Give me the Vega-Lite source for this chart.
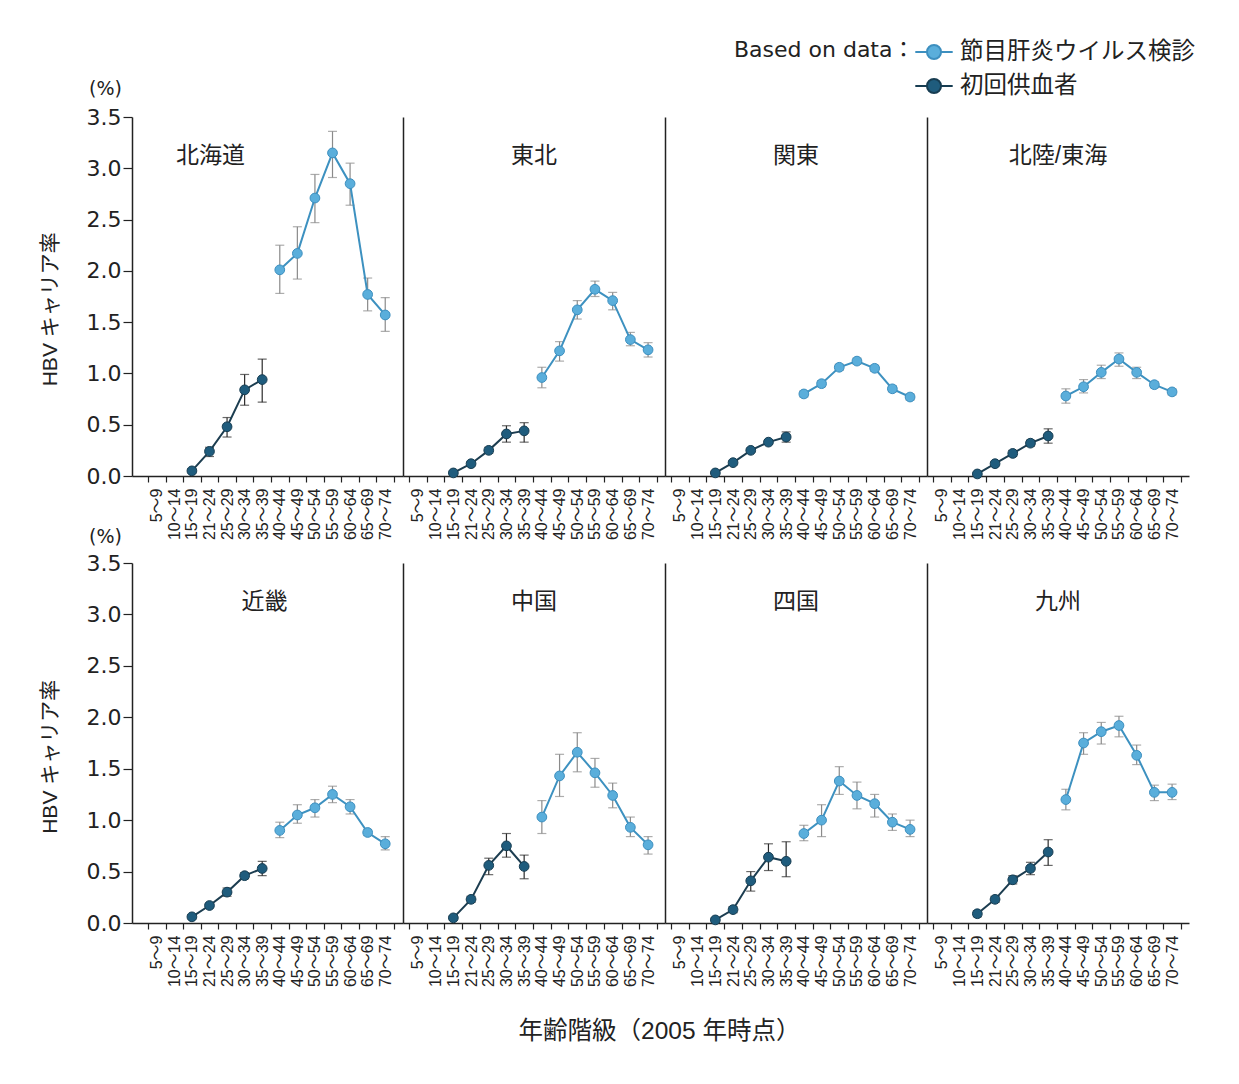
{
"$schema": "https://vega.github.io/schema/vega-lite/v6.json",
"padding": {"left": 40, "top": 40, "right": 45, "bottom": 40},
"data": {"values": [
{"r":"北海道","s":"初回供血者","age":"15〜19","v":0.05,"lo":0.03,"hi":0.07},
{"r":"北海道","s":"初回供血者","age":"21〜24","v":0.24,"lo":0.19,"hi":0.28},
{"r":"北海道","s":"初回供血者","age":"25〜29","v":0.48,"lo":0.38,"hi":0.57},
{"r":"北海道","s":"初回供血者","age":"30〜34","v":0.84,"lo":0.69,"hi":0.99},
{"r":"北海道","s":"初回供血者","age":"35〜39","v":0.94,"lo":0.72,"hi":1.14},
{"r":"北海道","s":"節目肝炎ウイルス検診","age":"40〜44","v":2.01,"lo":1.78,"hi":2.25},
{"r":"北海道","s":"節目肝炎ウイルス検診","age":"45〜49","v":2.17,"lo":1.92,"hi":2.43},
{"r":"北海道","s":"節目肝炎ウイルス検診","age":"50〜54","v":2.71,"lo":2.47,"hi":2.94},
{"r":"北海道","s":"節目肝炎ウイルス検診","age":"55〜59","v":3.15,"lo":2.91,"hi":3.36},
{"r":"北海道","s":"節目肝炎ウイルス検診","age":"60〜64","v":2.85,"lo":2.64,"hi":3.05},
{"r":"北海道","s":"節目肝炎ウイルス検診","age":"65〜69","v":1.77,"lo":1.61,"hi":1.93},
{"r":"北海道","s":"節目肝炎ウイルス検診","age":"70〜74","v":1.57,"lo":1.41,"hi":1.74},
{"r":"東北","s":"初回供血者","age":"15〜19","v":0.03,"lo":0.01,"hi":0.05},
{"r":"東北","s":"初回供血者","age":"21〜24","v":0.12,"lo":0.10,"hi":0.14},
{"r":"東北","s":"初回供血者","age":"25〜29","v":0.25,"lo":0.22,"hi":0.28},
{"r":"東北","s":"初回供血者","age":"30〜34","v":0.41,"lo":0.33,"hi":0.49},
{"r":"東北","s":"初回供血者","age":"35〜39","v":0.44,"lo":0.33,"hi":0.52},
{"r":"東北","s":"節目肝炎ウイルス検診","age":"40〜44","v":0.96,"lo":0.86,"hi":1.06},
{"r":"東北","s":"節目肝炎ウイルス検診","age":"45〜49","v":1.22,"lo":1.12,"hi":1.31},
{"r":"東北","s":"節目肝炎ウイルス検診","age":"50〜54","v":1.62,"lo":1.53,"hi":1.71},
{"r":"東北","s":"節目肝炎ウイルス検診","age":"55〜59","v":1.82,"lo":1.75,"hi":1.90},
{"r":"東北","s":"節目肝炎ウイルス検診","age":"60〜64","v":1.71,"lo":1.62,"hi":1.79},
{"r":"東北","s":"節目肝炎ウイルス検診","age":"65〜69","v":1.33,"lo":1.27,"hi":1.40},
{"r":"東北","s":"節目肝炎ウイルス検診","age":"70〜74","v":1.23,"lo":1.16,"hi":1.30},
{"r":"関東","s":"初回供血者","age":"15〜19","v":0.03,"lo":0.02,"hi":0.04},
{"r":"関東","s":"初回供血者","age":"21〜24","v":0.13,"lo":0.11,"hi":0.15},
{"r":"関東","s":"初回供血者","age":"25〜29","v":0.25,"lo":0.23,"hi":0.27},
{"r":"関東","s":"初回供血者","age":"30〜34","v":0.33,"lo":0.31,"hi":0.35},
{"r":"関東","s":"初回供血者","age":"35〜39","v":0.38,"lo":0.33,"hi":0.43},
{"r":"関東","s":"節目肝炎ウイルス検診","age":"40〜44","v":0.80,"lo":0.77,"hi":0.83},
{"r":"関東","s":"節目肝炎ウイルス検診","age":"45〜49","v":0.90,"lo":0.87,"hi":0.93},
{"r":"関東","s":"節目肝炎ウイルス検診","age":"50〜54","v":1.06,"lo":1.03,"hi":1.09},
{"r":"関東","s":"節目肝炎ウイルス検診","age":"55〜59","v":1.12,"lo":1.09,"hi":1.15},
{"r":"関東","s":"節目肝炎ウイルス検診","age":"60〜64","v":1.05,"lo":1.02,"hi":1.08},
{"r":"関東","s":"節目肝炎ウイルス検診","age":"65〜69","v":0.85,"lo":0.82,"hi":0.88},
{"r":"関東","s":"節目肝炎ウイルス検診","age":"70〜74","v":0.77,"lo":0.74,"hi":0.80},
{"r":"北陸/東海","s":"初回供血者","age":"15〜19","v":0.02,"lo":0.01,"hi":0.03},
{"r":"北陸/東海","s":"初回供血者","age":"21〜24","v":0.12,"lo":0.10,"hi":0.14},
{"r":"北陸/東海","s":"初回供血者","age":"25〜29","v":0.22,"lo":0.19,"hi":0.25},
{"r":"北陸/東海","s":"初回供血者","age":"30〜34","v":0.32,"lo":0.29,"hi":0.35},
{"r":"北陸/東海","s":"初回供血者","age":"35〜39","v":0.39,"lo":0.32,"hi":0.46},
{"r":"北陸/東海","s":"節目肝炎ウイルス検診","age":"40〜44","v":0.78,"lo":0.71,"hi":0.85},
{"r":"北陸/東海","s":"節目肝炎ウイルス検診","age":"45〜49","v":0.87,"lo":0.81,"hi":0.94},
{"r":"北陸/東海","s":"節目肝炎ウイルス検診","age":"50〜54","v":1.01,"lo":0.95,"hi":1.08},
{"r":"北陸/東海","s":"節目肝炎ウイルス検診","age":"55〜59","v":1.14,"lo":1.07,"hi":1.20},
{"r":"北陸/東海","s":"節目肝炎ウイルス検診","age":"60〜64","v":1.01,"lo":0.95,"hi":1.06},
{"r":"北陸/東海","s":"節目肝炎ウイルス検診","age":"65〜69","v":0.89,"lo":0.86,"hi":0.92},
{"r":"北陸/東海","s":"節目肝炎ウイルス検診","age":"70〜74","v":0.82,"lo":0.79,"hi":0.85},
{"r":"近畿","s":"初回供血者","age":"15〜19","v":0.06,"lo":0.04,"hi":0.08},
{"r":"近畿","s":"初回供血者","age":"21〜24","v":0.17,"lo":0.15,"hi":0.19},
{"r":"近畿","s":"初回供血者","age":"25〜29","v":0.30,"lo":0.26,"hi":0.34},
{"r":"近畿","s":"初回供血者","age":"30〜34","v":0.46,"lo":0.43,"hi":0.49},
{"r":"近畿","s":"初回供血者","age":"35〜39","v":0.53,"lo":0.46,"hi":0.60},
{"r":"近畿","s":"節目肝炎ウイルス検診","age":"40〜44","v":0.90,"lo":0.83,"hi":0.98},
{"r":"近畿","s":"節目肝炎ウイルス検診","age":"45〜49","v":1.05,"lo":0.97,"hi":1.15},
{"r":"近畿","s":"節目肝炎ウイルス検診","age":"50〜54","v":1.12,"lo":1.03,"hi":1.20},
{"r":"近畿","s":"節目肝炎ウイルス検診","age":"55〜59","v":1.25,"lo":1.17,"hi":1.33},
{"r":"近畿","s":"節目肝炎ウイルス検診","age":"60〜64","v":1.13,"lo":1.06,"hi":1.20},
{"r":"近畿","s":"節目肝炎ウイルス検診","age":"65〜69","v":0.88,"lo":0.85,"hi":0.91},
{"r":"近畿","s":"節目肝炎ウイルス検診","age":"70〜74","v":0.77,"lo":0.71,"hi":0.84},
{"r":"中国","s":"初回供血者","age":"15〜19","v":0.05,"lo":0.03,"hi":0.07},
{"r":"中国","s":"初回供血者","age":"21〜24","v":0.23,"lo":0.20,"hi":0.26},
{"r":"中国","s":"初回供血者","age":"25〜29","v":0.56,"lo":0.47,"hi":0.63},
{"r":"中国","s":"初回供血者","age":"30〜34","v":0.75,"lo":0.64,"hi":0.87},
{"r":"中国","s":"初回供血者","age":"35〜39","v":0.55,"lo":0.43,"hi":0.66},
{"r":"中国","s":"節目肝炎ウイルス検診","age":"40〜44","v":1.03,"lo":0.87,"hi":1.19},
{"r":"中国","s":"節目肝炎ウイルス検診","age":"45〜49","v":1.43,"lo":1.23,"hi":1.64},
{"r":"中国","s":"節目肝炎ウイルス検診","age":"50〜54","v":1.66,"lo":1.47,"hi":1.85},
{"r":"中国","s":"節目肝炎ウイルス検診","age":"55〜59","v":1.46,"lo":1.32,"hi":1.60},
{"r":"中国","s":"節目肝炎ウイルス検診","age":"60〜64","v":1.24,"lo":1.12,"hi":1.36},
{"r":"中国","s":"節目肝炎ウイルス検診","age":"65〜69","v":0.93,"lo":0.84,"hi":1.03},
{"r":"中国","s":"節目肝炎ウイルス検診","age":"70〜74","v":0.76,"lo":0.67,"hi":0.84},
{"r":"四国","s":"初回供血者","age":"15〜19","v":0.03,"lo":0.01,"hi":0.05},
{"r":"四国","s":"初回供血者","age":"21〜24","v":0.13,"lo":0.10,"hi":0.16},
{"r":"四国","s":"初回供血者","age":"25〜29","v":0.41,"lo":0.31,"hi":0.50},
{"r":"四国","s":"初回供血者","age":"30〜34","v":0.64,"lo":0.51,"hi":0.77},
{"r":"四国","s":"初回供血者","age":"35〜39","v":0.60,"lo":0.45,"hi":0.79},
{"r":"四国","s":"節目肝炎ウイルス検診","age":"40〜44","v":0.87,"lo":0.80,"hi":0.95},
{"r":"四国","s":"節目肝炎ウイルス検診","age":"45〜49","v":1.00,"lo":0.84,"hi":1.15},
{"r":"四国","s":"節目肝炎ウイルス検診","age":"50〜54","v":1.38,"lo":1.25,"hi":1.52},
{"r":"四国","s":"節目肝炎ウイルス検診","age":"55〜59","v":1.24,"lo":1.11,"hi":1.37},
{"r":"四国","s":"節目肝炎ウイルス検診","age":"60〜64","v":1.16,"lo":1.03,"hi":1.25},
{"r":"四国","s":"節目肝炎ウイルス検診","age":"65〜69","v":0.98,"lo":0.90,"hi":1.06},
{"r":"四国","s":"節目肝炎ウイルス検診","age":"70〜74","v":0.91,"lo":0.84,"hi":1.00},
{"r":"九州","s":"初回供血者","age":"15〜19","v":0.09,"lo":0.06,"hi":0.12},
{"r":"九州","s":"初回供血者","age":"21〜24","v":0.23,"lo":0.20,"hi":0.26},
{"r":"九州","s":"初回供血者","age":"25〜29","v":0.42,"lo":0.38,"hi":0.46},
{"r":"九州","s":"初回供血者","age":"30〜34","v":0.53,"lo":0.47,"hi":0.59},
{"r":"九州","s":"初回供血者","age":"35〜39","v":0.69,"lo":0.56,"hi":0.81},
{"r":"九州","s":"節目肝炎ウイルス検診","age":"40〜44","v":1.20,"lo":1.10,"hi":1.30},
{"r":"九州","s":"節目肝炎ウイルス検診","age":"45〜49","v":1.75,"lo":1.64,"hi":1.85},
{"r":"九州","s":"節目肝炎ウイルス検診","age":"50〜54","v":1.86,"lo":1.74,"hi":1.95},
{"r":"九州","s":"節目肝炎ウイルス検診","age":"55〜59","v":1.92,"lo":1.81,"hi":2.01},
{"r":"九州","s":"節目肝炎ウイルス検診","age":"60〜64","v":1.63,"lo":1.54,"hi":1.73},
{"r":"九州","s":"節目肝炎ウイルス検診","age":"65〜69","v":1.27,"lo":1.19,"hi":1.34},
{"r":"九州","s":"節目肝炎ウイルス検診","age":"70〜74","v":1.27,"lo":1.20,"hi":1.35}
]},
"title": {"text": "年齢階級（2005 年時点）", "orient": "bottom", "anchor": "middle", "fontSize": 24.5, "fontWeight": "normal", "color": "#222", "offset": 33, "baseline": "top", "dx": 42},
"spacing": -13,
"vconcat": [
{"hconcat": [
{"width": 271, "height": 359,
 "title": {"text": "北海道", "orient": "top", "anchor": "middle", "frame": "group", "offset": -100, "baseline": "middle", "dx": -57},
 "transform": [{"filter": "datum.r === '北海道'"}],
 "encoding": {"x": {"field": "age", "type": "ordinal", "title": null, "scale": {"type": "band", "domain": ["5〜9","10〜14","15〜19","21〜24","25〜29","30〜34","35〜39","40〜44","45〜49","50〜54","55〜59","60〜64","65〜69","70〜74"], "paddingInner": 0, "paddingOuter": 0.71, "align": 0.64}, "axis": {"title": null, "labelAngle": 270, "labelFontSize": 16, "tickBand": "extent", "tickSize": 6, "labelPadding": 6}}},
 "layer": [
  {"mark": {"type": "rule", "strokeWidth": 1.2}, "encoding": {"y": {"field": "lo", "type": "quantitative", "scale": {"domain": [0, 3.5], "nice": false}, "axis": {"title": "(%)", "titleFont": "DejaVu Sans", "labelFont": "DejaVu Sans", "titleAngle": 0, "titleX": -27, "titleY": -29, "titleAlign": "center", "titleBaseline": "middle", "titleFontSize": 19, "values": [0, 0.5, 1, 1.5, 2, 2.5, 3, 3.5], "format": ".1f", "labelFontSize": 22, "tickSize": 9, "labelPadding": 2}}, "y2": {"field": "hi"}, "color": {"condition": {"test": "datum.s === '初回供血者'", "value": "#2b2b2b"}, "value": "#8a8a8a"}}},
  {"mark": {"type": "tick", "size": 9, "thickness": 1.2}, "encoding": {"y": {"field": "lo", "type": "quantitative", "scale": {"domain": [0, 3.5], "nice": false}, "axis": {"title": "(%)", "titleFont": "DejaVu Sans", "labelFont": "DejaVu Sans", "titleAngle": 0, "titleX": -27, "titleY": -29, "titleAlign": "center", "titleBaseline": "middle", "titleFontSize": 19, "values": [0, 0.5, 1, 1.5, 2, 2.5, 3, 3.5], "format": ".1f", "labelFontSize": 22, "tickSize": 9, "labelPadding": 2}}, "color": {"condition": {"test": "datum.s === '初回供血者'", "value": "#2b2b2b"}, "value": "#8a8a8a"}}},
  {"mark": {"type": "tick", "size": 9, "thickness": 1.2}, "encoding": {"y": {"field": "hi", "type": "quantitative", "scale": {"domain": [0, 3.5], "nice": false}, "axis": {"title": "(%)", "titleFont": "DejaVu Sans", "labelFont": "DejaVu Sans", "titleAngle": 0, "titleX": -27, "titleY": -29, "titleAlign": "center", "titleBaseline": "middle", "titleFontSize": 19, "values": [0, 0.5, 1, 1.5, 2, 2.5, 3, 3.5], "format": ".1f", "labelFontSize": 22, "tickSize": 9, "labelPadding": 2}}, "color": {"condition": {"test": "datum.s === '初回供血者'", "value": "#2b2b2b"}, "value": "#8a8a8a"}}},
  {"mark": {"type": "line", "strokeWidth": 2}, "encoding": {"y": {"field": "v", "type": "quantitative", "scale": {"domain": [0, 3.5], "nice": false}, "axis": {"title": "(%)", "titleFont": "DejaVu Sans", "labelFont": "DejaVu Sans", "titleAngle": 0, "titleX": -27, "titleY": -29, "titleAlign": "center", "titleBaseline": "middle", "titleFontSize": 19, "values": [0, 0.5, 1, 1.5, 2, 2.5, 3, 3.5], "format": ".1f", "labelFontSize": 22, "tickSize": 9, "labelPadding": 2}}, "detail": {"field": "s"}, "color": {"condition": {"test": "datum.s === '初回供血者'", "value": "#1c3d50"}, "value": "#3d91c0"}}},
  {"mark": {"type": "point", "filled": true, "size": 95, "opacity": 1, "strokeWidth": 1}, "encoding": {"y": {"field": "v", "type": "quantitative", "scale": {"domain": [0, 3.5], "nice": false}, "axis": {"title": "(%)", "titleFont": "DejaVu Sans", "labelFont": "DejaVu Sans", "titleAngle": 0, "titleX": -27, "titleY": -29, "titleAlign": "center", "titleBaseline": "middle", "titleFontSize": 19, "values": [0, 0.5, 1, 1.5, 2, 2.5, 3, 3.5], "format": ".1f", "labelFontSize": 22, "tickSize": 9, "labelPadding": 2}},
    "color": {"field": "s", "type": "nominal", "title": "Based on data：", "scale": {"domain": ["節目肝炎ウイルス検診", "初回供血者"], "range": ["#5aaedb", "#1f5c7d"]}, "legend": {"orient": "none", "legendX": 602, "legendY": -77, "titleOrient": "left", "titleAnchor": "start", "titleFont": "DejaVu Sans, Noto Sans CJK JP", "titleFontSize": 22, "titleFontWeight": "normal", "titleColor": "#222", "titlePadding": 7, "labelFontSize": 23.5, "labelColor": "#222", "labelOffset": 14, "symbolType": "M-1.7,0L-0.64,0M0.64,0L1.7,0M-0.64,0A0.64,0.64,0,1,1,0.64,0A0.64,0.64,0,1,1,-0.64,0Z", "symbolSize": 484, "symbolStrokeWidth": 2, "rowPadding": 10, "padding": 0, "labelLimit": 400, "titleLimit": 400}},
    "stroke": {"field": "s", "type": "nominal", "title": "Based on data：", "scale": {"domain": ["節目肝炎ウイルス検診", "初回供血者"], "range": ["#3d8fbf", "#173d52"]}, "legend": {"orient": "none", "legendX": 602, "legendY": -77, "titleOrient": "left", "titleAnchor": "start", "titleFont": "DejaVu Sans, Noto Sans CJK JP", "titleFontSize": 22, "titleFontWeight": "normal", "titleColor": "#222", "titlePadding": 7, "labelFontSize": 23.5, "labelColor": "#222", "labelOffset": 14, "symbolType": "M-1.7,0L-0.64,0M0.64,0L1.7,0M-0.64,0A0.64,0.64,0,1,1,0.64,0A0.64,0.64,0,1,1,-0.64,0Z", "symbolSize": 484, "symbolStrokeWidth": 2, "rowPadding": 10, "padding": 0, "labelLimit": 400, "titleLimit": 400}}}}
 ]},
{"width": 262, "height": 359,
 "title": {"text": "東北", "orient": "top", "anchor": "middle", "frame": "group", "offset": -62, "baseline": "middle"},
 "transform": [{"filter": "datum.r === '東北'"}],
 "encoding": {"x": {"field": "age", "type": "ordinal", "title": null, "scale": {"type": "band", "domain": ["5〜9","10〜14","15〜19","21〜24","25〜29","30〜34","35〜39","40〜44","45〜49","50〜54","55〜59","60〜64","65〜69","70〜74"], "paddingInner": 0, "paddingOuter": 0.4, "align": 0.43}, "axis": {"title": null, "labelAngle": 270, "labelFontSize": 16, "tickBand": "extent", "tickSize": 6, "labelPadding": 6}}},
 "layer": [
  {"mark": {"type": "rule", "strokeWidth": 1.2}, "encoding": {"y": {"field": "lo", "type": "quantitative", "scale": {"domain": [0, 3.5], "nice": false}, "axis": {"title": null, "labels": false, "ticks": false, "values": [0]}}, "y2": {"field": "hi"}, "color": {"condition": {"test": "datum.s === '初回供血者'", "value": "#2b2b2b"}, "value": "#8a8a8a"}}},
  {"mark": {"type": "tick", "size": 9, "thickness": 1.2}, "encoding": {"y": {"field": "lo", "type": "quantitative", "scale": {"domain": [0, 3.5], "nice": false}, "axis": {"title": null, "labels": false, "ticks": false, "values": [0]}}, "color": {"condition": {"test": "datum.s === '初回供血者'", "value": "#2b2b2b"}, "value": "#8a8a8a"}}},
  {"mark": {"type": "tick", "size": 9, "thickness": 1.2}, "encoding": {"y": {"field": "hi", "type": "quantitative", "scale": {"domain": [0, 3.5], "nice": false}, "axis": {"title": null, "labels": false, "ticks": false, "values": [0]}}, "color": {"condition": {"test": "datum.s === '初回供血者'", "value": "#2b2b2b"}, "value": "#8a8a8a"}}},
  {"mark": {"type": "line", "strokeWidth": 2}, "encoding": {"y": {"field": "v", "type": "quantitative", "scale": {"domain": [0, 3.5], "nice": false}, "axis": {"title": null, "labels": false, "ticks": false, "values": [0]}}, "detail": {"field": "s"}, "color": {"condition": {"test": "datum.s === '初回供血者'", "value": "#1c3d50"}, "value": "#3d91c0"}}},
  {"mark": {"type": "point", "filled": true, "size": 95, "opacity": 1, "strokeWidth": 1}, "encoding": {"y": {"field": "v", "type": "quantitative", "scale": {"domain": [0, 3.5], "nice": false}, "axis": {"title": null, "labels": false, "ticks": false, "values": [0]}},
    "color": {"field": "s", "type": "nominal", "title": "Based on data：", "scale": {"domain": ["節目肝炎ウイルス検診", "初回供血者"], "range": ["#5aaedb", "#1f5c7d"]}, "legend": null},
    "stroke": {"field": "s", "type": "nominal", "title": "Based on data：", "scale": {"domain": ["節目肝炎ウイルス検診", "初回供血者"], "range": ["#3d8fbf", "#173d52"]}, "legend": null}}}
 ]},
{"width": 262, "height": 359,
 "title": {"text": "関東", "orient": "top", "anchor": "middle", "frame": "group", "offset": -62, "baseline": "middle"},
 "transform": [{"filter": "datum.r === '関東'"}],
 "encoding": {"x": {"field": "age", "type": "ordinal", "title": null, "scale": {"type": "band", "domain": ["5〜9","10〜14","15〜19","21〜24","25〜29","30〜34","35〜39","40〜44","45〜49","50〜54","55〜59","60〜64","65〜69","70〜74"], "paddingInner": 0, "paddingOuter": 0.4, "align": 0.43}, "axis": {"title": null, "labelAngle": 270, "labelFontSize": 16, "tickBand": "extent", "tickSize": 6, "labelPadding": 6}}},
 "layer": [
  {"mark": {"type": "rule", "strokeWidth": 1.2}, "encoding": {"y": {"field": "lo", "type": "quantitative", "scale": {"domain": [0, 3.5], "nice": false}, "axis": {"title": null, "labels": false, "ticks": false, "values": [0]}}, "y2": {"field": "hi"}, "color": {"condition": {"test": "datum.s === '初回供血者'", "value": "#2b2b2b"}, "value": "#8a8a8a"}}},
  {"mark": {"type": "tick", "size": 9, "thickness": 1.2}, "encoding": {"y": {"field": "lo", "type": "quantitative", "scale": {"domain": [0, 3.5], "nice": false}, "axis": {"title": null, "labels": false, "ticks": false, "values": [0]}}, "color": {"condition": {"test": "datum.s === '初回供血者'", "value": "#2b2b2b"}, "value": "#8a8a8a"}}},
  {"mark": {"type": "tick", "size": 9, "thickness": 1.2}, "encoding": {"y": {"field": "hi", "type": "quantitative", "scale": {"domain": [0, 3.5], "nice": false}, "axis": {"title": null, "labels": false, "ticks": false, "values": [0]}}, "color": {"condition": {"test": "datum.s === '初回供血者'", "value": "#2b2b2b"}, "value": "#8a8a8a"}}},
  {"mark": {"type": "line", "strokeWidth": 2}, "encoding": {"y": {"field": "v", "type": "quantitative", "scale": {"domain": [0, 3.5], "nice": false}, "axis": {"title": null, "labels": false, "ticks": false, "values": [0]}}, "detail": {"field": "s"}, "color": {"condition": {"test": "datum.s === '初回供血者'", "value": "#1c3d50"}, "value": "#3d91c0"}}},
  {"mark": {"type": "point", "filled": true, "size": 95, "opacity": 1, "strokeWidth": 1}, "encoding": {"y": {"field": "v", "type": "quantitative", "scale": {"domain": [0, 3.5], "nice": false}, "axis": {"title": null, "labels": false, "ticks": false, "values": [0]}},
    "color": {"field": "s", "type": "nominal", "title": "Based on data：", "scale": {"domain": ["節目肝炎ウイルス検診", "初回供血者"], "range": ["#5aaedb", "#1f5c7d"]}, "legend": null},
    "stroke": {"field": "s", "type": "nominal", "title": "Based on data：", "scale": {"domain": ["節目肝炎ウイルス検診", "初回供血者"], "range": ["#3d8fbf", "#173d52"]}, "legend": null}}}
 ]},
{"width": 262, "height": 359,
 "title": {"text": "北陸/東海", "orient": "top", "anchor": "middle", "frame": "group", "offset": -62, "baseline": "middle"},
 "transform": [{"filter": "datum.r === '北陸/東海'"}],
 "encoding": {"x": {"field": "age", "type": "ordinal", "title": null, "scale": {"type": "band", "domain": ["5〜9","10〜14","15〜19","21〜24","25〜29","30〜34","35〜39","40〜44","45〜49","50〜54","55〜59","60〜64","65〜69","70〜74"], "paddingInner": 0, "paddingOuter": 0.4, "align": 0.43}, "axis": {"title": null, "labelAngle": 270, "labelFontSize": 16, "tickBand": "extent", "tickSize": 6, "labelPadding": 6}}},
 "layer": [
  {"mark": {"type": "rule", "strokeWidth": 1.2}, "encoding": {"y": {"field": "lo", "type": "quantitative", "scale": {"domain": [0, 3.5], "nice": false}, "axis": {"title": null, "labels": false, "ticks": false, "values": [0]}}, "y2": {"field": "hi"}, "color": {"condition": {"test": "datum.s === '初回供血者'", "value": "#2b2b2b"}, "value": "#8a8a8a"}}},
  {"mark": {"type": "tick", "size": 9, "thickness": 1.2}, "encoding": {"y": {"field": "lo", "type": "quantitative", "scale": {"domain": [0, 3.5], "nice": false}, "axis": {"title": null, "labels": false, "ticks": false, "values": [0]}}, "color": {"condition": {"test": "datum.s === '初回供血者'", "value": "#2b2b2b"}, "value": "#8a8a8a"}}},
  {"mark": {"type": "tick", "size": 9, "thickness": 1.2}, "encoding": {"y": {"field": "hi", "type": "quantitative", "scale": {"domain": [0, 3.5], "nice": false}, "axis": {"title": null, "labels": false, "ticks": false, "values": [0]}}, "color": {"condition": {"test": "datum.s === '初回供血者'", "value": "#2b2b2b"}, "value": "#8a8a8a"}}},
  {"mark": {"type": "line", "strokeWidth": 2}, "encoding": {"y": {"field": "v", "type": "quantitative", "scale": {"domain": [0, 3.5], "nice": false}, "axis": {"title": null, "labels": false, "ticks": false, "values": [0]}}, "detail": {"field": "s"}, "color": {"condition": {"test": "datum.s === '初回供血者'", "value": "#1c3d50"}, "value": "#3d91c0"}}},
  {"mark": {"type": "point", "filled": true, "size": 95, "opacity": 1, "strokeWidth": 1}, "encoding": {"y": {"field": "v", "type": "quantitative", "scale": {"domain": [0, 3.5], "nice": false}, "axis": {"title": null, "labels": false, "ticks": false, "values": [0]}},
    "color": {"field": "s", "type": "nominal", "title": "Based on data：", "scale": {"domain": ["節目肝炎ウイルス検診", "初回供血者"], "range": ["#5aaedb", "#1f5c7d"]}, "legend": null},
    "stroke": {"field": "s", "type": "nominal", "title": "Based on data：", "scale": {"domain": ["節目肝炎ウイルス検診", "初回供血者"], "range": ["#3d8fbf", "#173d52"]}, "legend": null}}}
 ]}
], "spacing": 0, "bounds": "flush", "title": {"text": "HBV キャリア率", "orient": "left", "anchor": "middle", "fontSize": 21, "fontWeight": "normal", "color": "#222", "offset": 25}},
{"hconcat": [
{"width": 271, "height": 360,
 "title": {"text": "近畿", "orient": "top", "anchor": "middle", "frame": "group", "offset": -98, "baseline": "middle", "dx": -3},
 "transform": [{"filter": "datum.r === '近畿'"}],
 "encoding": {"x": {"field": "age", "type": "ordinal", "title": null, "scale": {"type": "band", "domain": ["5〜9","10〜14","15〜19","21〜24","25〜29","30〜34","35〜39","40〜44","45〜49","50〜54","55〜59","60〜64","65〜69","70〜74"], "paddingInner": 0, "paddingOuter": 0.71, "align": 0.64}, "axis": {"title": null, "labelAngle": 270, "labelFontSize": 16, "tickBand": "extent", "tickSize": 6, "labelPadding": 6}}},
 "layer": [
  {"mark": {"type": "rule", "strokeWidth": 1.2}, "encoding": {"y": {"field": "lo", "type": "quantitative", "scale": {"domain": [0, 3.5], "nice": false}, "axis": {"title": "(%)", "titleFont": "DejaVu Sans", "labelFont": "DejaVu Sans", "titleAngle": 0, "titleX": -27, "titleY": -27, "titleAlign": "center", "titleBaseline": "middle", "titleFontSize": 19, "values": [0, 0.5, 1, 1.5, 2, 2.5, 3, 3.5], "format": ".1f", "labelFontSize": 22, "tickSize": 9, "labelPadding": 2}}, "y2": {"field": "hi"}, "color": {"condition": {"test": "datum.s === '初回供血者'", "value": "#2b2b2b"}, "value": "#8a8a8a"}}},
  {"mark": {"type": "tick", "size": 9, "thickness": 1.2}, "encoding": {"y": {"field": "lo", "type": "quantitative", "scale": {"domain": [0, 3.5], "nice": false}, "axis": {"title": "(%)", "titleFont": "DejaVu Sans", "labelFont": "DejaVu Sans", "titleAngle": 0, "titleX": -27, "titleY": -27, "titleAlign": "center", "titleBaseline": "middle", "titleFontSize": 19, "values": [0, 0.5, 1, 1.5, 2, 2.5, 3, 3.5], "format": ".1f", "labelFontSize": 22, "tickSize": 9, "labelPadding": 2}}, "color": {"condition": {"test": "datum.s === '初回供血者'", "value": "#2b2b2b"}, "value": "#8a8a8a"}}},
  {"mark": {"type": "tick", "size": 9, "thickness": 1.2}, "encoding": {"y": {"field": "hi", "type": "quantitative", "scale": {"domain": [0, 3.5], "nice": false}, "axis": {"title": "(%)", "titleFont": "DejaVu Sans", "labelFont": "DejaVu Sans", "titleAngle": 0, "titleX": -27, "titleY": -27, "titleAlign": "center", "titleBaseline": "middle", "titleFontSize": 19, "values": [0, 0.5, 1, 1.5, 2, 2.5, 3, 3.5], "format": ".1f", "labelFontSize": 22, "tickSize": 9, "labelPadding": 2}}, "color": {"condition": {"test": "datum.s === '初回供血者'", "value": "#2b2b2b"}, "value": "#8a8a8a"}}},
  {"mark": {"type": "line", "strokeWidth": 2}, "encoding": {"y": {"field": "v", "type": "quantitative", "scale": {"domain": [0, 3.5], "nice": false}, "axis": {"title": "(%)", "titleFont": "DejaVu Sans", "labelFont": "DejaVu Sans", "titleAngle": 0, "titleX": -27, "titleY": -27, "titleAlign": "center", "titleBaseline": "middle", "titleFontSize": 19, "values": [0, 0.5, 1, 1.5, 2, 2.5, 3, 3.5], "format": ".1f", "labelFontSize": 22, "tickSize": 9, "labelPadding": 2}}, "detail": {"field": "s"}, "color": {"condition": {"test": "datum.s === '初回供血者'", "value": "#1c3d50"}, "value": "#3d91c0"}}},
  {"mark": {"type": "point", "filled": true, "size": 95, "opacity": 1, "strokeWidth": 1}, "encoding": {"y": {"field": "v", "type": "quantitative", "scale": {"domain": [0, 3.5], "nice": false}, "axis": {"title": "(%)", "titleFont": "DejaVu Sans", "labelFont": "DejaVu Sans", "titleAngle": 0, "titleX": -27, "titleY": -27, "titleAlign": "center", "titleBaseline": "middle", "titleFontSize": 19, "values": [0, 0.5, 1, 1.5, 2, 2.5, 3, 3.5], "format": ".1f", "labelFontSize": 22, "tickSize": 9, "labelPadding": 2}},
    "color": {"field": "s", "type": "nominal", "title": "Based on data：", "scale": {"domain": ["節目肝炎ウイルス検診", "初回供血者"], "range": ["#5aaedb", "#1f5c7d"]}, "legend": null},
    "stroke": {"field": "s", "type": "nominal", "title": "Based on data：", "scale": {"domain": ["節目肝炎ウイルス検診", "初回供血者"], "range": ["#3d8fbf", "#173d52"]}, "legend": null}}}
 ]},
{"width": 262, "height": 360,
 "title": {"text": "中国", "orient": "top", "anchor": "middle", "frame": "group", "offset": -62, "baseline": "middle"},
 "transform": [{"filter": "datum.r === '中国'"}],
 "encoding": {"x": {"field": "age", "type": "ordinal", "title": null, "scale": {"type": "band", "domain": ["5〜9","10〜14","15〜19","21〜24","25〜29","30〜34","35〜39","40〜44","45〜49","50〜54","55〜59","60〜64","65〜69","70〜74"], "paddingInner": 0, "paddingOuter": 0.4, "align": 0.43}, "axis": {"title": null, "labelAngle": 270, "labelFontSize": 16, "tickBand": "extent", "tickSize": 6, "labelPadding": 6}}},
 "layer": [
  {"mark": {"type": "rule", "strokeWidth": 1.2}, "encoding": {"y": {"field": "lo", "type": "quantitative", "scale": {"domain": [0, 3.5], "nice": false}, "axis": {"title": null, "labels": false, "ticks": false, "values": [0]}}, "y2": {"field": "hi"}, "color": {"condition": {"test": "datum.s === '初回供血者'", "value": "#2b2b2b"}, "value": "#8a8a8a"}}},
  {"mark": {"type": "tick", "size": 9, "thickness": 1.2}, "encoding": {"y": {"field": "lo", "type": "quantitative", "scale": {"domain": [0, 3.5], "nice": false}, "axis": {"title": null, "labels": false, "ticks": false, "values": [0]}}, "color": {"condition": {"test": "datum.s === '初回供血者'", "value": "#2b2b2b"}, "value": "#8a8a8a"}}},
  {"mark": {"type": "tick", "size": 9, "thickness": 1.2}, "encoding": {"y": {"field": "hi", "type": "quantitative", "scale": {"domain": [0, 3.5], "nice": false}, "axis": {"title": null, "labels": false, "ticks": false, "values": [0]}}, "color": {"condition": {"test": "datum.s === '初回供血者'", "value": "#2b2b2b"}, "value": "#8a8a8a"}}},
  {"mark": {"type": "line", "strokeWidth": 2}, "encoding": {"y": {"field": "v", "type": "quantitative", "scale": {"domain": [0, 3.5], "nice": false}, "axis": {"title": null, "labels": false, "ticks": false, "values": [0]}}, "detail": {"field": "s"}, "color": {"condition": {"test": "datum.s === '初回供血者'", "value": "#1c3d50"}, "value": "#3d91c0"}}},
  {"mark": {"type": "point", "filled": true, "size": 95, "opacity": 1, "strokeWidth": 1}, "encoding": {"y": {"field": "v", "type": "quantitative", "scale": {"domain": [0, 3.5], "nice": false}, "axis": {"title": null, "labels": false, "ticks": false, "values": [0]}},
    "color": {"field": "s", "type": "nominal", "title": "Based on data：", "scale": {"domain": ["節目肝炎ウイルス検診", "初回供血者"], "range": ["#5aaedb", "#1f5c7d"]}, "legend": null},
    "stroke": {"field": "s", "type": "nominal", "title": "Based on data：", "scale": {"domain": ["節目肝炎ウイルス検診", "初回供血者"], "range": ["#3d8fbf", "#173d52"]}, "legend": null}}}
 ]},
{"width": 262, "height": 360,
 "title": {"text": "四国", "orient": "top", "anchor": "middle", "frame": "group", "offset": -62, "baseline": "middle"},
 "transform": [{"filter": "datum.r === '四国'"}],
 "encoding": {"x": {"field": "age", "type": "ordinal", "title": null, "scale": {"type": "band", "domain": ["5〜9","10〜14","15〜19","21〜24","25〜29","30〜34","35〜39","40〜44","45〜49","50〜54","55〜59","60〜64","65〜69","70〜74"], "paddingInner": 0, "paddingOuter": 0.4, "align": 0.43}, "axis": {"title": null, "labelAngle": 270, "labelFontSize": 16, "tickBand": "extent", "tickSize": 6, "labelPadding": 6}}},
 "layer": [
  {"mark": {"type": "rule", "strokeWidth": 1.2}, "encoding": {"y": {"field": "lo", "type": "quantitative", "scale": {"domain": [0, 3.5], "nice": false}, "axis": {"title": null, "labels": false, "ticks": false, "values": [0]}}, "y2": {"field": "hi"}, "color": {"condition": {"test": "datum.s === '初回供血者'", "value": "#2b2b2b"}, "value": "#8a8a8a"}}},
  {"mark": {"type": "tick", "size": 9, "thickness": 1.2}, "encoding": {"y": {"field": "lo", "type": "quantitative", "scale": {"domain": [0, 3.5], "nice": false}, "axis": {"title": null, "labels": false, "ticks": false, "values": [0]}}, "color": {"condition": {"test": "datum.s === '初回供血者'", "value": "#2b2b2b"}, "value": "#8a8a8a"}}},
  {"mark": {"type": "tick", "size": 9, "thickness": 1.2}, "encoding": {"y": {"field": "hi", "type": "quantitative", "scale": {"domain": [0, 3.5], "nice": false}, "axis": {"title": null, "labels": false, "ticks": false, "values": [0]}}, "color": {"condition": {"test": "datum.s === '初回供血者'", "value": "#2b2b2b"}, "value": "#8a8a8a"}}},
  {"mark": {"type": "line", "strokeWidth": 2}, "encoding": {"y": {"field": "v", "type": "quantitative", "scale": {"domain": [0, 3.5], "nice": false}, "axis": {"title": null, "labels": false, "ticks": false, "values": [0]}}, "detail": {"field": "s"}, "color": {"condition": {"test": "datum.s === '初回供血者'", "value": "#1c3d50"}, "value": "#3d91c0"}}},
  {"mark": {"type": "point", "filled": true, "size": 95, "opacity": 1, "strokeWidth": 1}, "encoding": {"y": {"field": "v", "type": "quantitative", "scale": {"domain": [0, 3.5], "nice": false}, "axis": {"title": null, "labels": false, "ticks": false, "values": [0]}},
    "color": {"field": "s", "type": "nominal", "title": "Based on data：", "scale": {"domain": ["節目肝炎ウイルス検診", "初回供血者"], "range": ["#5aaedb", "#1f5c7d"]}, "legend": null},
    "stroke": {"field": "s", "type": "nominal", "title": "Based on data：", "scale": {"domain": ["節目肝炎ウイルス検診", "初回供血者"], "range": ["#3d8fbf", "#173d52"]}, "legend": null}}}
 ]},
{"width": 262, "height": 360,
 "title": {"text": "九州", "orient": "top", "anchor": "middle", "frame": "group", "offset": -62, "baseline": "middle"},
 "transform": [{"filter": "datum.r === '九州'"}],
 "encoding": {"x": {"field": "age", "type": "ordinal", "title": null, "scale": {"type": "band", "domain": ["5〜9","10〜14","15〜19","21〜24","25〜29","30〜34","35〜39","40〜44","45〜49","50〜54","55〜59","60〜64","65〜69","70〜74"], "paddingInner": 0, "paddingOuter": 0.4, "align": 0.43}, "axis": {"title": null, "labelAngle": 270, "labelFontSize": 16, "tickBand": "extent", "tickSize": 6, "labelPadding": 6}}},
 "layer": [
  {"mark": {"type": "rule", "strokeWidth": 1.2}, "encoding": {"y": {"field": "lo", "type": "quantitative", "scale": {"domain": [0, 3.5], "nice": false}, "axis": {"title": null, "labels": false, "ticks": false, "values": [0]}}, "y2": {"field": "hi"}, "color": {"condition": {"test": "datum.s === '初回供血者'", "value": "#2b2b2b"}, "value": "#8a8a8a"}}},
  {"mark": {"type": "tick", "size": 9, "thickness": 1.2}, "encoding": {"y": {"field": "lo", "type": "quantitative", "scale": {"domain": [0, 3.5], "nice": false}, "axis": {"title": null, "labels": false, "ticks": false, "values": [0]}}, "color": {"condition": {"test": "datum.s === '初回供血者'", "value": "#2b2b2b"}, "value": "#8a8a8a"}}},
  {"mark": {"type": "tick", "size": 9, "thickness": 1.2}, "encoding": {"y": {"field": "hi", "type": "quantitative", "scale": {"domain": [0, 3.5], "nice": false}, "axis": {"title": null, "labels": false, "ticks": false, "values": [0]}}, "color": {"condition": {"test": "datum.s === '初回供血者'", "value": "#2b2b2b"}, "value": "#8a8a8a"}}},
  {"mark": {"type": "line", "strokeWidth": 2}, "encoding": {"y": {"field": "v", "type": "quantitative", "scale": {"domain": [0, 3.5], "nice": false}, "axis": {"title": null, "labels": false, "ticks": false, "values": [0]}}, "detail": {"field": "s"}, "color": {"condition": {"test": "datum.s === '初回供血者'", "value": "#1c3d50"}, "value": "#3d91c0"}}},
  {"mark": {"type": "point", "filled": true, "size": 95, "opacity": 1, "strokeWidth": 1}, "encoding": {"y": {"field": "v", "type": "quantitative", "scale": {"domain": [0, 3.5], "nice": false}, "axis": {"title": null, "labels": false, "ticks": false, "values": [0]}},
    "color": {"field": "s", "type": "nominal", "title": "Based on data：", "scale": {"domain": ["節目肝炎ウイルス検診", "初回供血者"], "range": ["#5aaedb", "#1f5c7d"]}, "legend": null},
    "stroke": {"field": "s", "type": "nominal", "title": "Based on data：", "scale": {"domain": ["節目肝炎ウイルス検診", "初回供血者"], "range": ["#3d8fbf", "#173d52"]}, "legend": null}}}
 ]}
], "spacing": 0, "bounds": "flush", "title": {"text": "HBV キャリア率", "orient": "left", "anchor": "middle", "fontSize": 21, "fontWeight": "normal", "color": "#222", "offset": 25}}
],
"config": {
  "font": "Liberation Sans, Noto Sans CJK JP",
  "view": {"stroke": null},
  "axis": {"domainColor": "#222", "domainWidth": 1.5, "tickColor": "#222", "tickWidth": 1.2, "labelColor": "#222", "titleColor": "#222", "titleFontWeight": "normal", "grid": false},
  "title": {"fontSize": 23, "fontWeight": "normal", "color": "#222"}
}
}
